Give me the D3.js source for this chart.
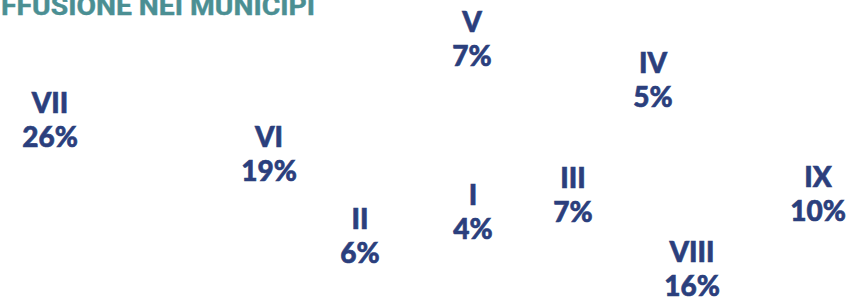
<!DOCTYPE html>
<html>
<head>
<meta charset="utf-8">
<script src="https://cdn.jsdelivr.net/npm/d3@7"></script>
<style>
  html, body { margin: 0; padding: 0; background: #fff; }
  svg { display: block; }
  .roman, .pct { font-family: Lato, "Open Sans", sans-serif; font-weight: 900; fill: #2b3f7d; stroke: #2b3f7d; stroke-width: 0.6px; }
  .title { font-family: Roboto, "Open Sans", sans-serif; font-weight: 700; fill: #4b8f93; stroke: #4b8f93; stroke-width: 0.4px; }
</style>
</head>
<body>
<svg></svg>
<script>
// municipi and their share
const municipi = ['I', 'II', 'III', 'IV', 'V', 'VI', 'VII', 'VIII', 'IX'];
const quote = [4, 6, 7, 5, 7, 19, 26, 16, 10];
const titolo = 'DIFFUSIONE NEI MUNICIPI';

// schematic map layout (label anchor, map units)
const layoutX = [473, 360, 573, 653, 472, 269, 50, 692, 818];
const layoutY = [205, 229, 188, 73, 32, 147, 113, 262, 187];

const width = 866;
const height = 303;
const fontSize = 28;
const lineGap = 34;

const svg = d3.select('svg').attr('width', width).attr('height', height);

const x = d3.scaleLinear().domain([0, 866]).range([0, width]);
const y = d3.scaleLinear().domain([0, 303]).range([0, height]);

// title, its first letters run off the left edge (as in the source)
const title = svg.append('text')
  .attr('class', 'title')
  .attr('y', 15)
  .style('font-size', '25px')
  .text(titolo);
const dLen = title.node().getSubStringLength(0, 2);
const rLen = title.node().getSubStringLength(2, titolo.length - 2);
const s = 314 / rLen;
title
  .attr('x', 1 - dLen * s)
  .attr('textLength', (dLen + rLen) * s)
  .attr('lengthAdjust', 'spacingAndGlyphs');

const data = municipi.map((m, i) => ({ m, v: quote[i], lx: layoutX[i], ly: layoutY[i] }));

const labels = svg.append('g')
  .attr('class', 'labels')
  .selectAll('g')
  .data(data)
  .enter()
  .append('g')
  .attr('transform', (d) => `translate(${x(d.lx)},${y(d.ly)})`);

labels.append('text')
  .attr('class', 'roman')
  .attr('text-anchor', 'middle')
  .style('font-size', fontSize + 'px')
  .text((d) => d.m);

labels.append('text')
  .attr('class', 'pct')
  .attr('text-anchor', 'middle')
  .attr('y', lineGap)
  .style('font-size', fontSize + 'px')
  .text((d) => d3.format('d')(d.v) + '%');
</script>
</body>
</html>
